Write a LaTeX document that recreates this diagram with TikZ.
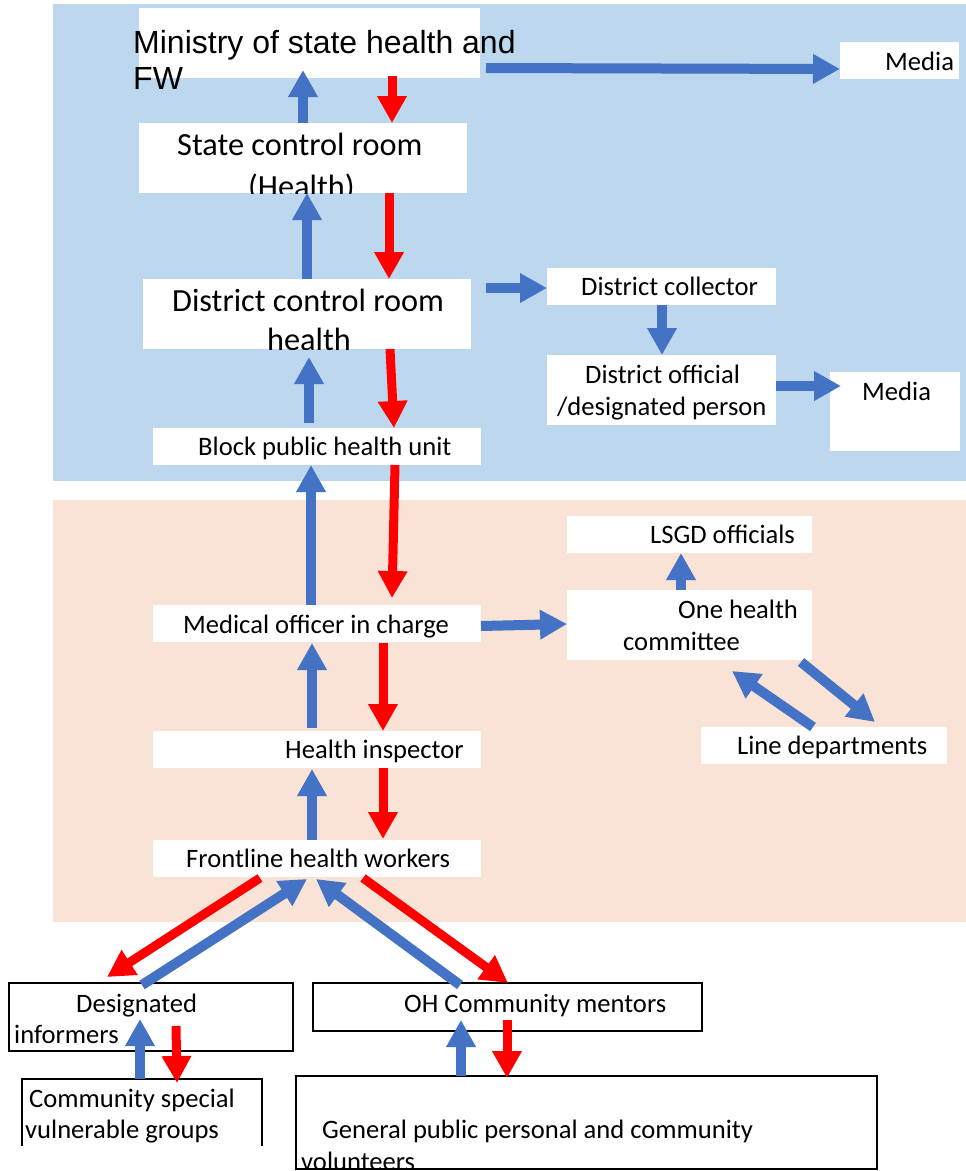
\documentclass[tikz,border=0pt]{standalone}
\usepackage{fontspec}
\setmainfont{Carlito}
\newfontfamily\arialfont{Liberation Sans}
\usetikzlibrary{arrows.meta}
\definecolor{bgblue}{HTML}{BDD7EE}
\definecolor{bgpink}{HTML}{F8E3D6}
\definecolor{arrblue}{HTML}{4472C4}
\definecolor{arrred}{HTML}{FF0000}
\begin{document}
\begin{tikzpicture}[x=1pt,y=-1pt,
  wbox/.style={fill=white, draw=none, inner sep=0pt},
  kbox/.style={fill=white, draw=black, line width=1.5pt, inner sep=0pt},
  txt/.style={anchor=base west, inner sep=0pt, font=\fontsize{26.6}{31}\selectfont},
  bigtxt/.style={anchor=base west, inner sep=0pt, font=\fontsize{32.3}{38}\selectfont},
  arialtxt/.style={anchor=base west, inner sep=0pt, font=\arialfont\fontsize{32}{36}\selectfont},
  bluearr/.style={draw=arrblue, line width=10pt, -{Triangle[width=28pt,length=27pt]}},
  redarr/.style={draw=arrred, line width=9pt, -{Triangle[width=28pt,length=27pt]}}]
\useasboundingbox (0,0) rectangle (966,1171);
\fill[white] (0,0) rectangle (966,1171);
% backgrounds
\fill[bgblue] (53,4) rectangle (966,481);
\fill[bgpink] (53,500) rectangle (966,922);

% boxes
\node[wbox, minimum width=341pt, minimum height=70pt] (ministry) at (309.5,43) {};
\node[wbox, minimum width=119pt, minimum height=37pt] (media1) at (899.5,60.5) {};
\node[wbox, minimum width=328pt, minimum height=70pt] (state) at (303,158) {};
\node[wbox, minimum width=328pt, minimum height=70pt] (district) at (307,314) {};
\node[wbox, minimum width=328pt, minimum height=37pt] (block) at (317,446.5) {};
\node[wbox, minimum width=229pt, minimum height=37pt] (collector) at (661.5,286.5) {};
\node[wbox, minimum width=229pt, minimum height=70pt] (official) at (661.5,390) {};
\node[wbox, minimum width=130pt, minimum height=79pt] (media2) at (895,411.5) {};
\node[wbox, minimum width=328pt, minimum height=37pt] (medical) at (317,623.5) {};
\node[wbox, minimum width=328pt, minimum height=37pt] (inspector) at (317,749.5) {};
\node[wbox, minimum width=328pt, minimum height=37pt] (frontline) at (317,858.5) {};
\node[wbox, minimum width=245pt, minimum height=37pt] (lsgd) at (689.5,534.5) {};
\node[wbox, minimum width=245pt, minimum height=70pt] (onehealth) at (689.5,625) {};
\node[wbox, minimum width=246pt, minimum height=37pt] (linedept) at (824,745.5) {};
\node[kbox, minimum width=284pt, minimum height=68pt] (designated) at (151,1017) {};
\node[kbox, minimum width=389pt, minimum height=48pt] (mentors) at (507.5,1007) {};
\node[inner sep=0pt, minimum width=240pt, minimum height=67pt] (community) at (142,1112.5) {};
\draw[line width=1.5pt] (community.south west) -- (community.north west) -- (community.north east) -- (community.south east);
\node[kbox, minimum width=581pt, minimum height=93pt] (general) at (586.5,1122.5) {};

% texts
\node[arialtxt] (ministryA) at (133,53) {Ministry of state health and};
\node[arialtxt] (ministryB) at (133,89) {FW};
\node[txt] (media1T) at (885,70) {Media};
\node[bigtxt] (stateA) at (177,155) {State control room};
\begin{scope}
  \clip (state.north west) rectangle (state.south east);
  \node[bigtxt] (stateB) at (248,197) {(Health)};
\end{scope}
\node[bigtxt] (districtA) at (172,311) {District control room};
\begin{scope}
  \clip (district.north west) rectangle (district.south east);
  \node[bigtxt] (districtB) at (267,350) {health};
\end{scope}
\node[txt] (blockT) at (198,455) {Block public health unit};
\node[txt] (collectorT) at (581,295) {District collector};
\node[txt] (officialA) at (585,383) {District official};
\node[txt] (officialB) at (557,415) {/designated person};
\node[txt] (media2T) at (862,400) {Media};
\node[txt] (medicalT) at (183,633) {Medical officer in charge};
\node[txt] (inspectorT) at (285,758) {Health inspector};
\node[txt] (frontlineT) at (186,867) {Frontline health workers};
\node[txt] (lsgdT) at (650,543) {LSGD officials};
\node[txt] (oneA) at (678,618) {One health};
\node[txt] (oneB) at (623,650) {committee};
\node[txt] (lineT) at (737,754) {Line departments};
\node[txt] (desA) at (76,1012) {Designated};
\node[txt] (desB) at (14,1043) {informers};
\node[txt] (mentorsT) at (404,1012) {OH Community mentors};
\node[txt] (comA) at (29,1107) {Community special};
\node[txt] (comB) at (25,1138) {vulnerable groups};
\node[txt] (genA) at (322,1138) {General public personal and community};
\begin{scope}
  \clip (296,1076) rectangle (877,1168);
  \node[txt] (genB) at (301,1170) {volunteers};
\end{scope}

% arrows
\draw[bluearr] ([shift={(176.5,25)}]ministry.center) -- ([shift={(-59.5,8.5)}]media1.center);
\draw[bluearr] ([shift={(0,-35)}]state.center) -- ([shift={(-6.5,27)}]ministry.center);
\draw[redarr] ([shift={(82.5,33)}]ministry.center) -- ([shift={(89,-35)}]state.center);
\draw[bluearr] ([shift={(0,-35)}]district.center) -- ([shift={(4,35)}]state.center);
\draw[redarr] ([shift={(86,35)}]state.center) -- ([shift={(82,-35)}]district.center);
\draw[bluearr] ([shift={(-8,-23.5)}]block.center) -- ([shift={(2,43)}]district.center);
\draw[redarr] ([shift={(83,35)}]district.center) -- ([shift={(77,-18.5)}]block.center);
\draw[bluearr] ([shift={(179,-26)}]district.center) -- ([shift={(-114.5,1.5)}]collector.center);
\draw[bluearr] ([shift={(0.5,18.5)}]collector.center) -- ([shift={(0.5,-35)}]official.center);
\draw[bluearr] ([shift={(114.5,-4)}]official.center) -- ([shift={(-54,-25.5)}]media2.center);
\draw[bluearr] ([shift={(-6,-18.5)}]medical.center) -- ([shift={(-6,18.5)}]block.center);
\draw[redarr] ([shift={(78,18.5)}]block.center) -- ([shift={(75,-25.5)}]medical.center);
\draw[bluearr] ([shift={(-5,-21.5)}]inspector.center) -- ([shift={(-5,19.5)}]medical.center);
\draw[redarr] ([shift={(66,19.5)}]medical.center) -- ([shift={(66,-18.5)}]inspector.center);
\draw[bluearr] ([shift={(-5,-18.5)}]frontline.center) -- ([shift={(-5,19.5)}]inspector.center);
\draw[redarr] ([shift={(66,18.5)}]inspector.center) -- ([shift={(66,-19.5)}]frontline.center);
\draw[bluearr] ([shift={(164,2.5)}]medical.center) -- ([shift={(-122.5,-1)}]onehealth.center);
\draw[bluearr] ([shift={(-8.5,-35)}]onehealth.center) -- ([shift={(-8.5,18.5)}]lsgd.center);
\draw[bluearr] ([shift={(111.5,37)}]onehealth.center) -- ([shift={(51,-23.5)}]linedept.center);
\draw[bluearr] ([shift={(-11,-18.5)}]linedept.center) -- ([shift={(42.5,46)}]onehealth.center);
\draw[redarr] ([shift={(-57,19.5)}]frontline.center) -- ([shift={(-44,-40)}]designated.center);
\draw[bluearr] ([shift={(-9,-32)}]designated.center) -- ([shift={(-10,20.5)}]frontline.center);
\draw[bluearr] ([shift={(-47.5,-22)}]mentors.center) -- ([shift={(-1,20.5)}]frontline.center);
\draw[redarr] ([shift={(46,19.5)}]frontline.center) -- ([shift={(0.5,-24)}]mentors.center);
\draw[bluearr] ([shift={(-2,-33.5)}]community.center) -- ([shift={(-11,2)}]designated.center);
\draw[redarr] ([shift={(25,9)}]designated.center) -- ([shift={(35,-29.5)}]community.center);
\draw[bluearr] ([shift={(-125.5,-46.5)}]general.center) -- ([shift={(-46.5,13)}]mentors.center);
\draw[redarr] ([shift={(-0.5,13)}]mentors.center) -- ([shift={(-79.5,-44.5)}]general.center);
\end{tikzpicture}
\end{document}
